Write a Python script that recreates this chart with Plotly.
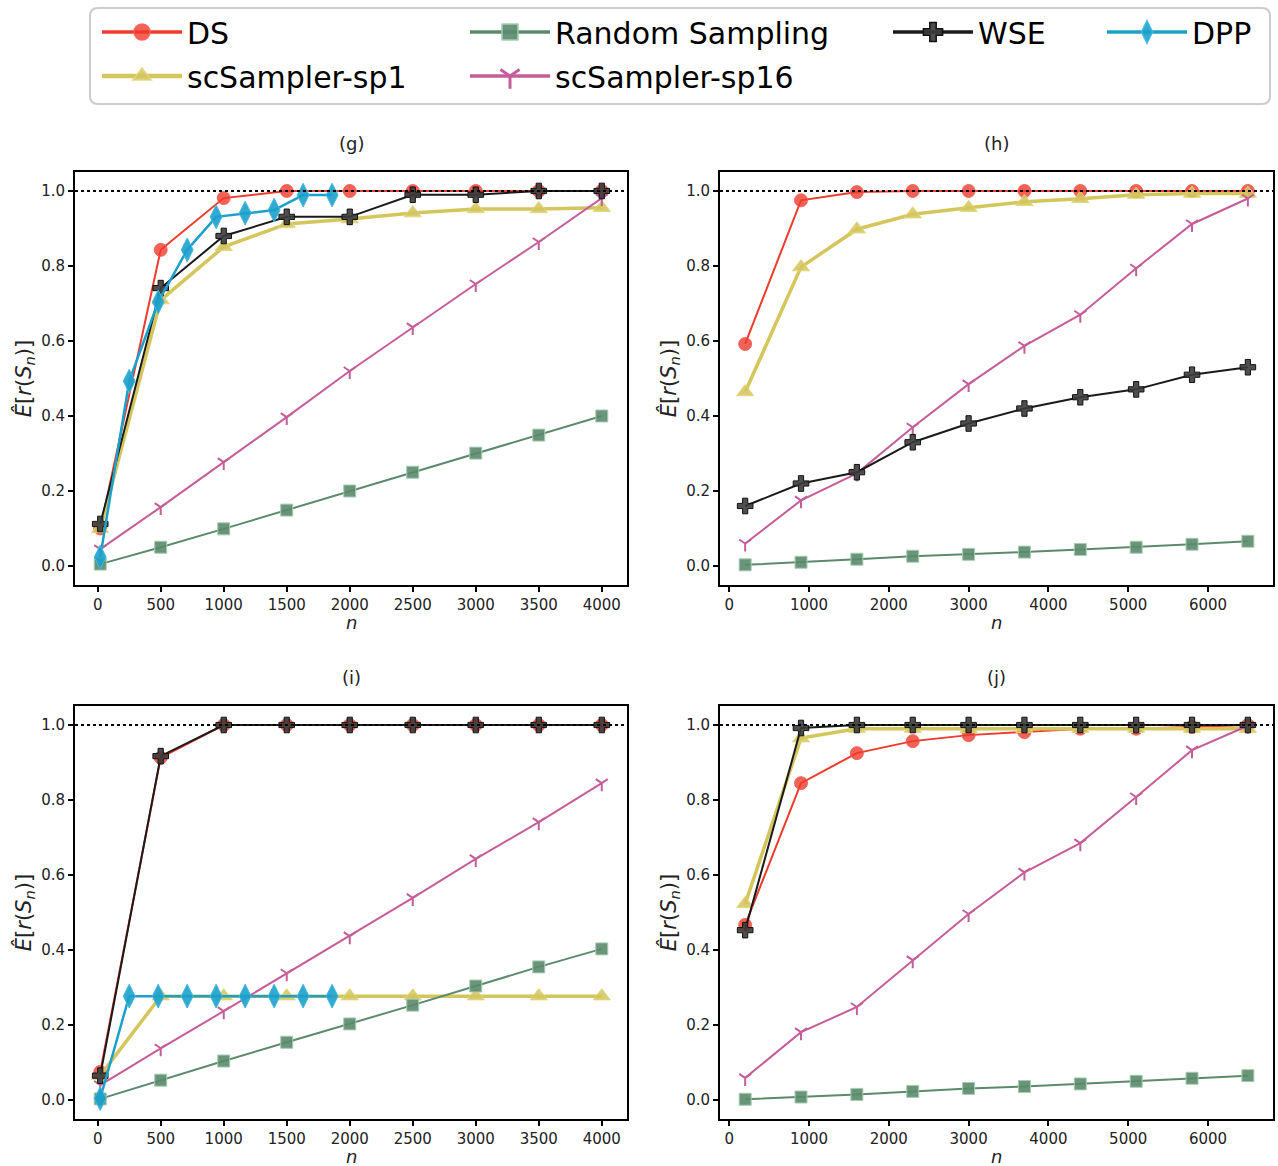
import plotly.graph_objects as go

# ---- sample sizes ----
n_g = [20, 500, 1000, 1500, 2000, 2500, 3000, 3500, 4000]
n_dpp = [20, 250, 480, 710, 940, 1170, 1400, 1630, 1860]
n_h = [200, 900, 1600, 2300, 3000, 3700, 4400, 5100, 5800, 6500]

# ---- panel (g) ----
ds_g = [0.10, 0.843, 0.981, 1.0, 1.0, 1.0, 1.0, 1.0, 1.0]
sp1_g = [0.099, 0.709, 0.851, 0.912, 0.925, 0.941, 0.952, 0.952, 0.955]
rand_g = [0.005, 0.05, 0.099, 0.149, 0.2, 0.25, 0.301, 0.349, 0.4]
sp16_g = [0.045, 0.157, 0.277, 0.397, 0.52, 0.637, 0.752, 0.864, 0.981]
wse_g = [0.112, 0.741, 0.88, 0.931, 0.931, 0.99, 0.99, 1.0, 1.0]
dpp_g = [0.024, 0.493, 0.704, 0.843, 0.931, 0.941, 0.949, 0.989, 0.989]

# ---- panel (h) ----
ds_h = [0.592, 0.975, 0.997, 1.0, 1.0, 1.0, 1.0, 1.0, 1.0, 1.0]
sp1_h = [0.464, 0.797, 0.898, 0.938, 0.955, 0.971, 0.979, 0.99, 0.993, 0.993]
rand_h = [0.003, 0.01, 0.018, 0.026, 0.031, 0.037, 0.044, 0.05, 0.058, 0.066]
sp16_h = [0.06, 0.175, 0.247, 0.37, 0.485, 0.587, 0.67, 0.794, 0.912, 0.98]
wse_h = [0.16, 0.22, 0.25, 0.33, 0.38, 0.42, 0.45, 0.471, 0.51, 0.53]

# ---- panel (i) ----
ds_i = [0.075, 0.913, 1.0, 1.0, 1.0, 1.0, 1.0, 1.0, 1.0]
sp1_i = [0.065, 0.277, 0.277, 0.277, 0.277, 0.277, 0.277, 0.277, 0.277]
rand_i = [0.003, 0.053, 0.104, 0.154, 0.203, 0.253, 0.304, 0.355, 0.403]
sp16_i = [0.04, 0.138, 0.237, 0.338, 0.437, 0.539, 0.643, 0.741, 0.845]
wse_i = [0.065, 0.917, 1.0, 1.0, 1.0, 1.0, 1.0, 1.0, 1.0]
dpp_i = [0.004, 0.277, 0.277, 0.277, 0.277, 0.277, 0.277, 0.277, 0.277]

# ---- panel (j) ----
ds_j = [0.467, 0.845, 0.925, 0.957, 0.973, 0.981, 0.99, 0.99, 0.995, 1.0]
sp1_j = [0.523, 0.965, 0.99, 0.99, 0.99, 0.99, 0.99, 0.99, 0.99, 0.99]
rand_j = [0.002, 0.008, 0.015, 0.023, 0.031, 0.036, 0.043, 0.05, 0.058, 0.065]
sp16_j = [0.059, 0.181, 0.248, 0.373, 0.496, 0.607, 0.685, 0.808, 0.933, 0.998]
wse_j = [0.453, 0.992, 1.0, 1.0, 1.0, 1.0, 1.0, 1.0, 1.0, 1.0]

panel_labels = ["(g)", "(h)", "(i)", "(j)"]
method_order = ["DS", "scSampler-sp1", "Random Sampling", "scSampler-sp16", "WSE", "DPP"]

FONT = "DejaVu Sans"
W, H = 1278, 1166

# per-method styling
STYLES = {
    "DS": dict(color="#ef3b2c", width=2, symbol="circle", size=13,
               fill="rgba(239,59,44,0.8)", edge="rgba(245,95,85,0.9)", legend="legend"),
    "scSampler-sp1": dict(color="#d4c65c", width=3.5, symbol="triangle-up", size=15,
                          fill="rgba(212,198,92,0.85)", edge="rgba(225,215,125,0.9)", legend="legend"),
    "Random Sampling": dict(color="#5b8a6c", width=2, symbol="square", size=12,
                            fill="rgba(91,138,108,0.9)", edge="rgba(165,205,177,1)", legend="legend2"),
    "scSampler-sp16": dict(color="#c55d98", width=2, symbol="y-down", size=10,
                           fill="#c55d98", edge="#c55d98", legend="legend2"),
    "WSE": dict(color="#1a1a1a", width=2, symbol="cross", size=13,
                fill="rgba(60,60,60,0.9)", edge="#111111", legend="legend3"),
    "DPP": dict(color="#1ba0cc", width=2.5, symbol="diamond-tall", size=17,
                fill="rgba(27,160,204,0.9)", edge="rgba(70,185,222,1)", legend="legend4"),
}

panels = [
    (n_g, {"DS": ds_g, "scSampler-sp1": sp1_g, "Random Sampling": rand_g,
           "scSampler-sp16": sp16_g, "WSE": wse_g}, dpp_g),
    (n_h, {"DS": ds_h, "scSampler-sp1": sp1_h, "Random Sampling": rand_h,
           "scSampler-sp16": sp16_h, "WSE": wse_h}, None),
    (n_g, {"DS": ds_i, "scSampler-sp1": sp1_i, "Random Sampling": rand_i,
           "scSampler-sp16": sp16_i, "WSE": wse_i}, dpp_i),
    (n_h, {"DS": ds_j, "scSampler-sp1": sp1_j, "Random Sampling": rand_j,
           "scSampler-sp16": sp16_j, "WSE": wse_j}, None),
]

fig = go.Figure()


def marker_for(st, scale=1.0, lw=None):
    is_line_marker = st["symbol"] == "y-down"
    return dict(symbol=st["symbol"], size=st["size"] * scale, color=st["fill"],
                line=dict(color=st["edge"],
                          width=lw if lw is not None else (2 if is_line_marker else 1)))


def add_series(name, xs, ys, k):
    st = STYLES[name]
    suffix = "" if k == 0 else str(k + 1)
    fig.add_trace(go.Scatter(
        x=xs, y=ys, mode="lines+markers", name=name,
        line=dict(color=st["color"], width=st["width"]),
        marker=marker_for(st),
        xaxis="x" + suffix, yaxis="y" + suffix,
        legend=st["legend"], legendgroup=name, showlegend=False,
    ))


for k, (xs, series, dpp) in enumerate(panels):
    for name in method_order[:-1]:
        add_series(name, xs, series[name], k)
    if dpp is not None:
        add_series("DPP", n_dpp, dpp, k)

# legend keys: heavier lines and larger markers than the plotted series
for name in method_order:
    st = STYLES[name]
    fig.add_trace(go.Scatter(
        x=[None], y=[None], mode="lines+markers", name=name,
        line=dict(color=st["color"], width=max(3.5, st["width"] + 1)),
        marker=marker_for(st, scale=1.6, lw=3 if st["symbol"] == "y-down" else 1.5),
        legend=st["legend"], legendgroup=name, showlegend=True,
        hoverinfo="skip",
    ))

# axis geometry
X_LEFT = [0.0587, 0.4906]
X_RIGHT = [0.5634, 0.9961]
Y_TOP = [0.4985, 0.8523]
Y_BOT = [0.0405, 0.3943]

axis_common = dict(
    showline=True, linecolor="black", linewidth=2, mirror=True,
    ticks="outside", ticklen=5, tickwidth=1.5, tickcolor="black",
    showgrid=False, zeroline=False,
    tickfont=dict(family=FONT, size=15, color="#222"),
)

layout_axes = {}
specs = [
    (X_LEFT, Y_TOP, [-180, 4200], 500),
    (X_RIGHT, Y_TOP, [-115, 6815], 1000),
    (X_LEFT, Y_BOT, [-180, 4200], 500),
    (X_RIGHT, Y_BOT, [-115, 6815], 1000),
]
for k, (xd, yd, xr, dt) in enumerate(specs):
    suffix = "" if k == 0 else str(k + 1)
    layout_axes["xaxis" + suffix] = dict(
        axis_common, domain=xd, range=xr, dtick=dt, tick0=0,
        anchor="y" + suffix,
    )
    layout_axes["yaxis" + suffix] = dict(
        axis_common, domain=yd, range=[-0.05, 1.05], dtick=0.2, tick0=0,
        tickformat=".1f", anchor="x" + suffix,
        title=dict(text="<i>Ê</i>[<i>r</i>(<i>S</i><sub><i>n</i></sub>)]",
                   font=dict(family=FONT, size=21, color="#222"), standoff=4),
    )

shapes = []
annotations = []
for k, (xd, yd, _, _) in enumerate(specs):
    suffix = "" if k == 0 else str(k + 1)
    xc = (xd[0] + xd[1]) / 2
    shapes.append(dict(type="line", xref="x" + suffix + " domain", x0=0, x1=1,
                       yref="y" + suffix, y0=1, y1=1, layer="above",
                       line=dict(color="black", width=2, dash="dot")))
    # panel label above the frame
    annotations.append(dict(
        text=panel_labels[k], xref="paper", yref="paper",
        x=xc, y=yd[1] + 0.025, xanchor="center", yanchor="middle",
        showarrow=False, font=dict(family=FONT, size=18, color="#222"),
    ))
    # x-axis label below the tick labels
    annotations.append(dict(
        text="<i>n</i>", xref="paper", yref="paper",
        x=xc, y=yd[0] - 38 / H, xanchor="center", yanchor="middle",
        showarrow=False, font=dict(family=FONT, size=18, color="#222"),
    ))

# rounded frame around the legend block
x0, x1, y0, y1 = 90 / W, 1270 / W, 1 - 104 / H, 1 - 8 / H
rx, ry = 8 / W, 8 / H
path = (f"M {x0 + rx},{y1} L {x1 - rx},{y1} Q {x1},{y1} {x1},{y1 - ry} "
        f"L {x1},{y0 + ry} Q {x1},{y0} {x1 - rx},{y0} "
        f"L {x0 + rx},{y0} Q {x0},{y0} {x0},{y0 + ry} "
        f"L {x0},{y1 - ry} Q {x0},{y1} {x0 + rx},{y1} Z")
shapes.append(dict(type="path", xref="paper", yref="paper", path=path,
                   line=dict(color="#cccccc", width=2), fillcolor="white", layer="below"))

legend_common = dict(
    orientation="v", xanchor="left", yanchor="top", y=1 - 6 / H,
    font=dict(family=FONT, size=30, color="black"),
    bgcolor="rgba(0,0,0,0)", borderwidth=0,
    itemwidth=80, tracegroupgap=2, itemsizing="trace",
)

fig.update_layout(
    width=W, height=H,
    margin=dict(l=0, r=0, t=0, b=0),
    paper_bgcolor="white", plot_bgcolor="white",
    font=dict(family=FONT, color="#222"),
    shapes=shapes, annotations=annotations,
    legend=dict(legend_common, x=97 / W),
    legend2=dict(legend_common, x=465 / W),
    legend3=dict(legend_common, x=888 / W),
    legend4=dict(legend_common, x=1102 / W),
    **layout_axes,
)

fig.write_html("out.html")
